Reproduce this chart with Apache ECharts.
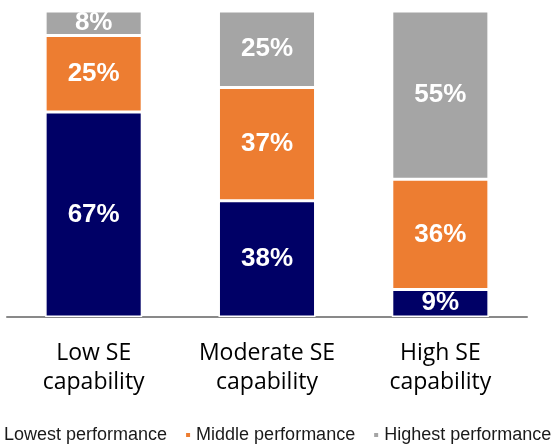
<!DOCTYPE html>
<html>
<head>
<meta charset="utf-8">
<script src="https://cdn.jsdelivr.net/npm/echarts@6/dist/echarts.min.js"></script>
<style>html,body{margin:0;padding:0;background:#fff}#c{width:555px;height:444px}</style>
</head>
<body>
<div id="c"></div>
<script>
const categories = ['Low SE\ncapability', 'Moderate SE\ncapability', 'High SE\ncapability'];
const lowest = [67, 38, 9];
const middle = [25, 37, 36];
const highest = [8, 25, 55];
const seriesNames = ['Lowest performance', 'Middle performance', 'Highest performance'];

const colors = ['#000066', '#ED7D31', '#A5A5A5'];
const chart = echarts.init(document.getElementById('c'));
const mk = (name, data, color) => ({
  name, type: 'bar', stack: 'total', data,
  barCategoryGap: '44%',
  itemStyle: { color, borderColor: '#fff', borderWidth: 1.5 },
  label: { show: true, position: 'inside', formatter: '{c}%', color: '#fff',
    fontFamily: 'Liberation Sans', fontWeight: 'bold', fontSize: 26 }
});
chart.setOption({
  animation: false,
  color: colors,
  grid: { left: 7, right: 28, top: 11, bottom: 127, containLabel: false },
  legend: {
    left: -8, top: 426, width: 700, padding: 0,
    itemWidth: 6, itemHeight: 6, itemGap: 17, icon: 'rect',
    textStyle: { fontFamily: 'Liberation Sans', fontSize: 18, color: '#1a1a1a' },
    data: seriesNames
  },
  xAxis: {
    type: 'category', data: categories,
    axisLine: { lineStyle: { color: '#898989', width: 2 } },
    axisTick: { show: false },
    axisLabel: { interval: 0, fontFamily: 'Open Sans', fontSize: 23, color: '#000', lineHeight: 29, margin: 22 }
  },
  yAxis: { type: 'value', min: 0, max: 100, show: false, splitLine: { show: false } },
  series: [
    mk(seriesNames[0], lowest, colors[0]),
    mk(seriesNames[1], middle, colors[1]),
    mk(seriesNames[2], highest, colors[2])
  ]
});
</script>
</body>
</html>
